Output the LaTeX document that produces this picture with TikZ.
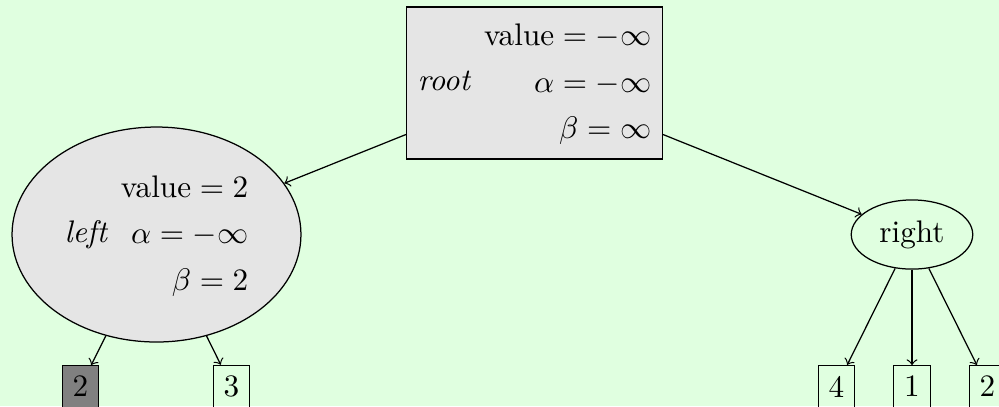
\documentclass[tikz,border=0pt]{standalone}
\definecolor{bgmint}{RGB}{224,255,224}
\tikzset{
  treebox/.style={draw, fill=gray!20},
  rootbox/.style={treebox, rectangle, minimum width=82pt, minimum height=48.7pt, inner sep=0pt},
  bigoval/.style={treebox, ellipse, minimum width=92.6pt, minimum height=68.9pt, inner sep=0pt},
  smalloval/.style={draw, ellipse},
  leafbox/.style={draw, rectangle},
  darkleaf/.style={leafbox, fill=gray},
  treeedge/.style={->}
}
\usetikzlibrary{shapes.geometric}
\begin{document}
\begin{tikzpicture}[x=0.3205pt,y=-0.3205pt]
\useasboundingbox (0,0) rectangle (999,406);
\fill[bgmint] (0,0) rectangle (999,406);
\renewcommand{\arraystretch}{1.24}
\node[rootbox] (root) at (534.5,83) {\textit{root}\hspace{4.1pt}\begin{tabular}{@{}r@{}}value${}=-\infty$\\$\alpha=-\infty$\\$\beta=\infty$\end{tabular}};
\node[bigoval] (left) at (156.5,234.5) {\textit{left}\hspace{4.1pt}\begin{tabular}{@{}r@{}}value${}=2$\\$\alpha=-\infty$\\$\beta=2$\end{tabular}};
\node[smalloval] (right) at (912,234.5) {right};
\node[darkleaf] (l1) at (80.5,386.5) {2};
\node[leafbox] (l2) at (231.5,386.5) {3};
\node[leafbox] (r1) at (836.5,386.5) {4};
\node[leafbox] (r2) at (912,386.5) {1};
\node[leafbox] (r3) at (987.5,386.5) {2};
\draw[treeedge] (root) -- (left);
\draw[treeedge] (root) -- (right);
\draw[treeedge] (left) -- (l1);
\draw[treeedge] (left) -- (l2);
\draw[treeedge] (right) -- (r1);
\draw[treeedge] (right) -- (r2);
\draw[treeedge] (right) -- (r3);
\end{tikzpicture}
\end{document}
